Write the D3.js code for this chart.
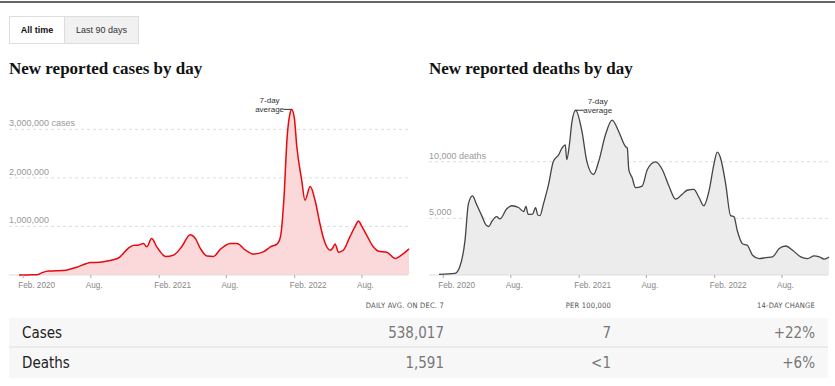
<!DOCTYPE html>
<html>
<head>
<meta charset="utf-8">
<script src="https://cdn.jsdelivr.net/npm/d3@7"></script>
<style>
  html, body { margin: 0; padding: 0; background: #fff; }
  svg { display: block; }
  .sans { font-family: "Liberation Sans", Arial, sans-serif; }
  .narrow { font-family: "Liberation Sans Narrow", "DejaVu Sans", "Liberation Sans", sans-serif; font-stretch: condensed; }
  .serif { font-family: "Liberation Serif", "DejaVu Serif", serif; }
</style>
</head>
<body>
<svg id="chart" width="835" height="386"></svg>
<script>
// ---------- DATA ----------
const caseDates = ["2020-01-22","2020-02-15","2020-03-10","2020-03-25","2020-04-10","2020-05-01","2020-05-28","2020-06-25","2020-07-20","2020-08-01","2020-08-27","2020-09-23","2020-10-16","2020-11-11","2020-11-25","2020-12-10","2020-12-22","2020-12-31","2021-01-13","2021-01-27","2021-02-20","2021-03-13","2021-04-04","2021-04-27","2021-05-11","2021-05-24","2021-06-11","2021-06-29","2021-07-17","2021-08-13","2021-08-31","2021-09-23","2021-10-15","2021-11-11","2021-11-29","2021-12-17","2021-12-26","2022-01-04","2022-01-13","2022-01-20","2022-01-25","2022-02-01","2022-02-08","2022-02-21","2022-03-02","2022-03-16","2022-03-29","2022-04-12","2022-04-21","2022-05-09","2022-05-16","2022-05-22","2022-05-31","2022-06-13","2022-07-01","2022-07-15","2022-07-24","2022-08-02","2022-08-15","2022-09-02","2022-09-16","2022-10-08","2022-10-31","2022-11-13","2022-12-07"];
const caseValues = [500,2500,5000,50000,80000,85000,100000,160000,230000,255000,260000,300000,350000,550000,610000,620000,650000,580000,750000,580000,380000,410000,580000,830000,750000,550000,390000,380000,530000,650000,650000,510000,430000,480000,580000,640000,790000,1540000,2850000,3300000,3410000,3250000,2640000,1960000,1540000,1820000,1540000,1030000,750000,510000,560000,640000,470000,510000,790000,1000000,1110000,1000000,820000,580000,490000,470000,340000,390000,538017];

const deathDates = ["2020-01-22","2020-03-05","2020-03-18","2020-04-01","2020-04-10","2020-04-21","2020-05-02","2020-05-16","2020-05-29","2020-06-04","2020-06-12","2020-06-25","2020-07-04","2020-07-22","2020-08-05","2020-08-23","2020-09-06","2020-09-12","2020-09-18","2020-09-30","2020-10-08","2020-10-14","2020-10-20","2020-10-29","2020-11-12","2020-11-25","2020-12-09","2020-12-18","2020-12-27","2020-12-31","2021-01-07","2021-01-14","2021-01-24","2021-02-10","2021-02-23","2021-03-13","2021-03-27","2021-04-14","2021-05-02","2021-05-20","2021-06-07","2021-06-12","2021-06-16","2021-06-25","2021-07-04","2021-07-22","2021-08-05","2021-08-27","2021-09-14","2021-10-02","2021-10-20","2021-11-07","2021-11-20","2021-12-08","2021-12-22","2022-01-04","2022-01-18","2022-01-31","2022-02-09","2022-02-18","2022-03-04","2022-03-17","2022-03-26","2022-04-04","2022-04-18","2022-05-01","2022-05-15","2022-06-02","2022-06-20","2022-07-08","2022-07-26","2022-08-13","2022-08-31","2022-09-22","2022-10-10","2022-10-28","2022-11-11","2022-11-24","2022-12-07"];
const deathValues = [60,150,730,3050,6250,6980,6250,5240,4360,4280,4710,5150,4950,5820,6110,5960,5600,6050,5350,5380,5950,5300,5240,6250,8000,10030,10600,11200,11490,10180,11490,13530,14540,12650,10030,8870,10030,12360,13670,12650,11340,11200,9310,8580,7710,7850,9310,9980,9310,7850,6690,7130,7480,7560,6840,6110,7420,9740,10850,10330,8000,5240,5150,3930,2760,2620,1750,1450,1540,1600,2330,2560,2180,1600,1450,1690,1600,1400,1591];

const tickDates = ["2020-02-01","2020-08-01","2021-02-01","2021-08-01","2022-02-01","2022-08-01"];
const tickLabels = ["Feb. 2020","Aug.","Feb. 2021","Aug.","Feb. 2022","Aug."];

const caseGridValues = [1000000, 2000000, 3000000];
const caseGridLabels = ["1,000,000", "2,000,000", "3,000,000 cases"];
const deathGridValues = [5000, 10000];
const deathGridLabels = ["5,000", "10,000 deaths"];

const tableHeaders = ["DAILY AVG. ON DEC. 7", "PER 100,000", "14-DAY CHANGE"];
const tableRows = ["Cases", "Deaths"];
const tableAvg = ["538,017", "1,591"];
const tablePer100k = ["7", "<1"];
const tableChange = ["+22%", "+6%"];

// ---------- DRAW ----------
const parse = d3.timeParse("%Y-%m-%d");
const svg = d3.select("#chart");

// top rule
svg.append("line").attr("x1", 0).attr("x2", 835).attr("y1", 2).attr("y2", 2)
  .attr("stroke", "#333").attr("stroke-width", 1.5);

// buttons
const btn = svg.append("g").attr("class", "sans");
btn.append("rect").attr("x", 64.5).attr("y", 16.5).attr("width", 74).attr("height", 27)
  .attr("fill", "#f1f1f1").attr("stroke", "#ddd");
btn.append("rect").attr("x", 9.5).attr("y", 16.5).attr("width", 55).attr("height", 27)
  .attr("fill", "#fff").attr("stroke", "#ddd");
btn.append("text").attr("x", 37).attr("y", 33).attr("text-anchor", "middle")
  .attr("font-size", 9).attr("font-weight", "bold").attr("fill", "#111").text("All time");
btn.append("text").attr("x", 101.5).attr("y", 33).attr("text-anchor", "middle")
  .attr("font-size", 9).attr("fill", "#333").text("Last 90 days");

function drawChart(opts) {
  const g = svg.append("g");
  const data = opts.dates.map((d, i) => ({ date: parse(d), value: opts.values[i] }));
  const x = d3.scaleTime().domain([parse("2020-01-22"), parse("2022-12-07")]).range(opts.xRange);
  const y = d3.scaleLinear().domain(opts.yDomain).range(opts.yRange);

  g.append("text").attr("class", "serif").attr("x", opts.left).attr("y", 74)
    .attr("font-size", 17).attr("font-weight", "bold").attr("fill", "#121212").text(opts.title);

  // gridlines
  opts.gridValues.forEach((v, i) => {
    g.append("line").attr("x1", opts.left).attr("x2", opts.right)
      .attr("y1", y(v)).attr("y2", y(v))
      .attr("stroke", "#ddd").attr("stroke-dasharray", "3,3");
  });

  const area = d3.area().x(d => x(d.date)).y0(y(0)).y1(d => y(d.value)).curve(d3.curveMonotoneX);
  const line = d3.line().x(d => x(d.date)).y(d => y(d.value)).curve(d3.curveMonotoneX);
  g.append("path").datum(data).attr("d", area).attr("fill", opts.fill);

  // grid labels
  opts.gridValues.forEach((v, i) => {
    g.append("text").attr("class", "sans").attr("x", opts.left).attr("y", y(v) - 3)
      .attr("font-size", 9).attr("fill", "#999").text(opts.gridLabels[i]);
  });

  // baseline
  g.append("line").attr("x1", opts.left).attr("x2", opts.right).attr("y1", y(0)).attr("y2", y(0))
    .attr("stroke", "#ddd");

  g.append("path").datum(data).attr("d", line).attr("fill", "none")
    .attr("stroke", opts.stroke).attr("stroke-width", opts.strokeWidth).attr("stroke-linejoin", "round");

  // axis
  const axis = d3.axisBottom(x).tickValues(tickDates.map(parse))
    .tickFormat((d, i) => tickLabels[i]).tickSize(3).tickPadding(4);
  const ax = g.append("g").attr("transform", `translate(0,${y(0)})`).call(axis);
  ax.select(".domain").remove();
  ax.selectAll(".tick line").attr("stroke", "#aaa");
  ax.selectAll(".tick text").attr("class", "sans").attr("font-size", 8.2).attr("fill", "#888")
    .attr("text-anchor", "start").attr("dx", -5).attr("font-family", null);

  // annotation
  const peak = data.reduce((a, b) => (b.value > a.value ? b : a));
  const px = x(peak.date), py = y(peak.value);
  const dir = opts.annotDir;
  g.append("line").attr("x1", px).attr("x2", px + dir * 8).attr("y1", py).attr("y2", py)
    .attr("stroke", "#333");
  const tx = px + dir * 22;
  const at = g.append("text").attr("class", "sans").attr("font-size", 8).attr("fill", "#333")
    .attr("text-anchor", "middle");
  at.append("tspan").attr("x", tx).attr("y", py - 6).text("7-day");
  at.append("tspan").attr("x", tx).attr("y", py + 2.5).text("average");
}

drawChart({
  title: "New reported cases by day", dates: caseDates, values: caseValues,
  left: 9, right: 408, xRange: [19, 409], yDomain: [0, 3000000], yRange: [275, 129.3],
  gridValues: caseGridValues, gridLabels: caseGridLabels,
  fill: "#fbd9da", stroke: "#e8080e", strokeWidth: 1.5, annotDir: -1
});
drawChart({
  title: "New reported deaths by day", dates: deathDates, values: deathValues,
  left: 429, right: 828, xRange: [439, 829], yDomain: [0, 10000], yRange: [275, 161.7],
  gridValues: deathGridValues, gridLabels: deathGridLabels,
  fill: "#ececec", stroke: "#444", strokeWidth: 1.3, annotDir: 1
});

// ---------- TABLE ----------
const tbl = svg.append("g").attr("class", "narrow");
const colX = [444, 611, 815];
tableHeaders.forEach((h, i) => {
  tbl.append("text").attr("x", colX[i]).attr("y", 308).attr("text-anchor", "end")
    .attr("font-size", 7.5).attr("fill", "#555").attr("letter-spacing", 0.2).text(h);
});
const rowTop = [318, 347.5];
const rowH = [29, 30.5];
tableRows.forEach((r, i) => {
  tbl.append("rect").attr("x", 9).attr("y", rowTop[i]).attr("width", 819).attr("height", rowH[i])
    .attr("fill", "#f7f7f7");
  const ty = rowTop[i] + rowH[i] / 2 + 5;
  tbl.append("text").attr("x", 22).attr("y", ty).attr("font-size", 15).attr("fill", "#222").text(r);
  [tableAvg[i], tablePer100k[i], tableChange[i]].forEach((v, j) => {
    tbl.append("text").attr("x", colX[j]).attr("y", ty).attr("text-anchor", "end")
      .attr("font-size", 15).attr("fill", "#777").text(v);
  });
});
tbl.append("line").attr("x1", 9).attr("x2", 828).attr("y1", 347).attr("y2", 347)
  .attr("stroke", "#ddd");
</script>
</body>
</html>
